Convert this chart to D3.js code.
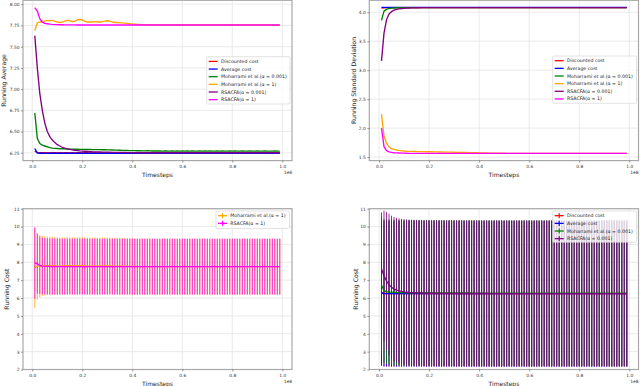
<!DOCTYPE html>
<html>
<head>
<meta charset="utf-8">
<script src="https://cdn.jsdelivr.net/npm/d3@7"></script>
<style>
  body { margin: 0; background: #fff; }
  svg { display: block; font-family: "DejaVu Sans", sans-serif; }
</style>
</head>
<body>
<div id="chart"></div>
<script>
// timesteps, in millions (axis shows them in units of 1e8)
var steps = [1,2,3,4,5,6,7,8,9,10,
  11,12,13,14,15,16,17,18,19,20,
  21,22,23,24,25,26,27,28,29,30,
  31,32,33,34,35,36,37,38,39,40,
  41,42,43,44,45,46,47,48,49,50,
  51,52,53,54,55,56,57,58,59,60,
  61,62,63,64,65,66,67,68,69,70,
  71,72,73,74,75,76,77,78,79,80,
  81,82,83,84,85,86,87,88,89,90,
  91,92,93,94,95,96,97,98,99];

var xTicks = [0, 20, 40, 60, 80, 100];
var avgTicks = [6.25, 6.5, 6.75, 7.0, 7.25, 7.5, 7.75, 8.0];
var sdTicks = [1.5, 2.0, 2.5, 3.0, 3.5, 4.0];
var costTicks = [2, 3, 4, 5, 6, 7, 8, 9, 10, 11];

var seriesNames = ["Discounted cost", "Average cost", "Moharrami et al.(\u03b1 = 0.001)",
  "Moharrami et al.(\u03b1 = 1)", "RSACFA(\u03b1 = 0.001)", "RSACFA(\u03b1 = 1)"];
var seriesColors = ["#ff0000", "#0000ff", "#008000", "#ffa500", "#800080", "#ff00ff"];

// running averages
var avgDiscounted = [6.27,6.255,6.252,6.251,6.25,6.25,6.249,6.25,6.25,6.249,
  6.25,6.249,6.25,6.25,6.249,6.25,6.249,6.25,6.25,6.249,
  6.25,6.25,6.249,6.25,6.25,6.249,6.25,6.25,6.249,6.25,
  6.249,6.25,6.25,6.249,6.25,6.25,6.249,6.25,6.249,6.25,
  6.25,6.249,6.25,6.25,6.249,6.25,6.249,6.25,6.25,6.249,
  6.25,6.25,6.249,6.25,6.25,6.249,6.25,6.249,6.25,6.25,
  6.249,6.25,6.25,6.249,6.25,6.25,6.249,6.25,6.25,6.249,
  6.25,6.249,6.25,6.25,6.249,6.25,6.25,6.249,6.25,6.25,
  6.249,6.25,6.25,6.249,6.25,6.249,6.25,6.25,6.249,6.25,
  6.25,6.249,6.25,6.25,6.249,6.25,6.25,6.249,6.25];
var avgAverage = [6.30,6.246,6.245,6.245,6.245,6.244,6.244,6.244,6.244,6.244,
  6.244,6.244,6.244,6.244,6.244,6.244,6.244,6.244,6.244,6.244,
  6.244,6.244,6.244,6.244,6.244,6.244,6.244,6.244,6.244,6.244,
  6.244,6.244,6.244,6.244,6.244,6.244,6.244,6.244,6.244,6.244,
  6.244,6.244,6.244,6.244,6.244,6.244,6.244,6.244,6.244,6.244,
  6.244,6.244,6.244,6.244,6.244,6.244,6.244,6.244,6.244,6.244,
  6.244,6.244,6.244,6.244,6.244,6.244,6.244,6.244,6.244,6.244,
  6.244,6.244,6.244,6.244,6.244,6.244,6.244,6.244,6.244,6.244,
  6.244,6.244,6.244,6.244,6.244,6.244,6.244,6.244,6.244,6.244,
  6.244,6.244,6.244,6.244,6.244,6.244,6.244,6.244,6.244];
var avgMohSmall = [6.72,6.42,6.36,6.34,6.33,6.32,6.31,6.305,6.302,6.30,
  6.298,6.297,6.296,6.295,6.294,6.293,6.292,6.292,6.291,6.29,
  6.29,6.289,6.289,6.288,6.288,6.287,6.287,6.286,6.286,6.285,
  6.284,6.283,6.282,6.281,6.28,6.279,6.278,6.277,6.276,6.276,
  6.275,6.274,6.276,6.273,6.272,6.274,6.272,6.271,6.273,6.271,
  6.272,6.27,6.273,6.271,6.27,6.272,6.27,6.271,6.27,6.272,
  6.27,6.271,6.27,6.272,6.27,6.27,6.271,6.27,6.272,6.27,
  6.271,6.27,6.27,6.272,6.27,6.271,6.27,6.27,6.271,6.27,
  6.272,6.27,6.27,6.271,6.27,6.27,6.272,6.27,6.27,6.271,
  6.27,6.27,6.271,6.27,6.27,6.27,6.271,6.27,6.27];
var avgMohOne = [7.69,7.78,7.79,7.80,7.80,7.81,7.805,7.81,7.80,7.79,
  7.785,7.79,7.80,7.81,7.805,7.795,7.80,7.815,7.82,7.815,
  7.80,7.79,7.79,7.79,7.795,7.79,7.79,7.795,7.80,7.805,
  7.80,7.79,7.785,7.785,7.78,7.78,7.778,7.775,7.77,7.765,
  7.765,7.763,7.762,7.76,7.76,7.758,7.757,7.757,7.756,7.756,
  7.755,7.755,7.755,7.755,7.755,7.755,7.755,7.755,7.755,7.755,
  7.755,7.755,7.755,7.755,7.755,7.755,7.755,7.755,7.755,7.755,
  7.755,7.755,7.755,7.755,7.755,7.755,7.755,7.755,7.755,7.755,
  7.755,7.755,7.755,7.755,7.755,7.755,7.755,7.755,7.755,7.755,
  7.755,7.755,7.755,7.755,7.755,7.755,7.755,7.755,7.755];
var avgRsSmall = [7.63,7.25,6.95,6.75,6.60,6.50,6.44,6.40,6.37,6.345,
  6.33,6.315,6.305,6.297,6.29,6.285,6.28,6.276,6.272,6.27,
  6.268,6.266,6.264,6.262,6.261,6.26,6.259,6.258,6.257,6.256,
  6.256,6.255,6.255,6.254,6.254,6.253,6.253,6.252,6.252,6.252,
  6.251,6.251,6.251,6.25,6.25,6.25,6.25,6.25,6.25,6.25,
  6.249,6.25,6.249,6.25,6.249,6.249,6.25,6.249,6.249,6.25,
  6.249,6.249,6.25,6.249,6.249,6.249,6.25,6.249,6.249,6.249,
  6.25,6.249,6.249,6.249,6.249,6.25,6.249,6.249,6.249,6.249,
  6.249,6.25,6.249,6.249,6.249,6.249,6.249,6.25,6.249,6.249,
  6.249,6.249,6.249,6.249,6.25,6.249,6.249,6.249,6.249];
var avgRsOne = [7.96,7.92,7.83,7.79,7.775,7.77,7.765,7.762,7.76,7.76,
  7.758,7.758,7.757,7.757,7.756,7.756,7.756,7.755,7.755,7.755,
  7.755,7.755,7.755,7.755,7.755,7.755,7.755,7.755,7.755,7.755,
  7.755,7.755,7.755,7.755,7.755,7.755,7.755,7.755,7.755,7.755,
  7.755,7.755,7.755,7.755,7.755,7.755,7.755,7.755,7.755,7.755,
  7.755,7.755,7.755,7.755,7.755,7.755,7.755,7.755,7.755,7.755,
  7.755,7.755,7.755,7.755,7.755,7.755,7.755,7.755,7.755,7.755,
  7.755,7.755,7.755,7.755,7.755,7.755,7.755,7.755,7.755,7.755,
  7.755,7.755,7.755,7.755,7.755,7.755,7.755,7.755,7.755,7.755,
  7.755,7.755,7.755,7.755,7.755,7.755,7.755,7.755,7.755];

// running standard deviations
var sdDiscounted = [4.07,4.078,4.08,4.08,4.08,4.08,4.08,4.08,4.08,4.08,
  4.08,4.08,4.08,4.08,4.08,4.08,4.08,4.08,4.08,4.08,
  4.08,4.08,4.08,4.08,4.08,4.08,4.08,4.08,4.08,4.08,
  4.08,4.08,4.08,4.08,4.08,4.08,4.08,4.08,4.08,4.08,
  4.08,4.08,4.08,4.08,4.08,4.08,4.08,4.08,4.08,4.08,
  4.08,4.08,4.08,4.08,4.08,4.08,4.08,4.08,4.08,4.08,
  4.08,4.08,4.08,4.08,4.08,4.08,4.08,4.08,4.08,4.08,
  4.08,4.08,4.08,4.08,4.08,4.08,4.08,4.08,4.08,4.08,
  4.08,4.08,4.08,4.08,4.08,4.08,4.08,4.08,4.08,4.08,
  4.08,4.08,4.08,4.08,4.08,4.08,4.08,4.08,4.08];
var sdAverage = [4.085,4.085,4.085,4.085,4.085,4.085,4.085,4.085,4.085,4.085,
  4.085,4.085,4.085,4.085,4.085,4.085,4.085,4.085,4.085,4.085,
  4.085,4.085,4.085,4.085,4.085,4.085,4.085,4.085,4.085,4.085,
  4.085,4.085,4.085,4.085,4.085,4.085,4.085,4.085,4.085,4.085,
  4.085,4.085,4.085,4.085,4.085,4.085,4.085,4.085,4.085,4.085,
  4.085,4.085,4.085,4.085,4.085,4.085,4.085,4.085,4.085,4.085,
  4.085,4.085,4.085,4.085,4.085,4.085,4.085,4.085,4.085,4.085,
  4.085,4.085,4.085,4.085,4.085,4.085,4.085,4.085,4.085,4.085,
  4.085,4.085,4.085,4.085,4.085,4.085,4.085,4.085,4.085,4.085,
  4.085,4.085,4.085,4.085,4.085,4.085,4.085,4.085,4.085];
var sdMohSmall = [3.86,4.02,4.05,4.065,4.07,4.073,4.075,4.077,4.078,4.079,
  4.08,4.08,4.08,4.08,4.08,4.08,4.08,4.08,4.08,4.08,
  4.08,4.08,4.08,4.08,4.08,4.08,4.08,4.08,4.08,4.08,
  4.08,4.08,4.08,4.08,4.08,4.08,4.08,4.08,4.08,4.08,
  4.08,4.08,4.08,4.08,4.08,4.08,4.08,4.08,4.08,4.08,
  4.08,4.08,4.08,4.08,4.08,4.08,4.08,4.08,4.08,4.08,
  4.08,4.08,4.08,4.08,4.08,4.08,4.08,4.08,4.08,4.08,
  4.08,4.08,4.08,4.08,4.08,4.08,4.08,4.08,4.08,4.08,
  4.08,4.08,4.08,4.08,4.08,4.08,4.08,4.08,4.08,4.08,
  4.08,4.08,4.08,4.08,4.08,4.08,4.08,4.08,4.08];
var sdMohOne = [2.24,1.86,1.74,1.675,1.645,1.632,1.622,1.615,1.608,1.604,
  1.601,1.599,1.598,1.597,1.596,1.595,1.594,1.593,1.592,1.592,
  1.591,1.59,1.589,1.588,1.587,1.586,1.585,1.585,1.584,1.583,
  1.582,1.581,1.58,1.579,1.578,1.577,1.576,1.575,1.574,1.573,
  1.572,1.571,1.57,1.569,1.568,1.567,1.567,1.566,1.566,1.566,
  1.565,1.565,1.565,1.565,1.565,1.565,1.565,1.565,1.565,1.565,
  1.565,1.565,1.565,1.565,1.565,1.565,1.565,1.565,1.565,1.565,
  1.565,1.565,1.565,1.565,1.565,1.565,1.565,1.565,1.565,1.565,
  1.565,1.565,1.565,1.565,1.565,1.565,1.565,1.565,1.565,1.565,
  1.565,1.565,1.565,1.565,1.565,1.565,1.565,1.565,1.565];
var sdRsSmall = [3.16,3.64,3.87,3.97,4.01,4.035,4.05,4.058,4.064,4.068,
  4.071,4.073,4.075,4.076,4.077,4.078,4.079,4.079,4.08,4.08,
  4.08,4.08,4.08,4.08,4.08,4.08,4.08,4.08,4.08,4.08,
  4.08,4.08,4.08,4.08,4.08,4.08,4.08,4.08,4.08,4.08,
  4.08,4.08,4.08,4.08,4.08,4.08,4.08,4.08,4.08,4.08,
  4.08,4.08,4.08,4.08,4.08,4.08,4.08,4.08,4.08,4.08,
  4.08,4.08,4.08,4.08,4.08,4.08,4.08,4.08,4.08,4.08,
  4.08,4.08,4.08,4.08,4.08,4.08,4.08,4.08,4.08,4.08,
  4.08,4.08,4.08,4.08,4.08,4.08,4.08,4.08,4.08,4.08,
  4.08,4.08,4.08,4.08,4.08,4.08,4.08,4.08,4.08];
var sdRsOne = [2.00,1.68,1.61,1.59,1.58,1.575,1.572,1.57,1.568,1.567,
  1.566,1.565,1.565,1.565,1.565,1.565,1.565,1.565,1.565,1.565,
  1.565,1.565,1.565,1.565,1.565,1.565,1.565,1.565,1.565,1.565,
  1.565,1.565,1.565,1.565,1.565,1.565,1.565,1.565,1.565,1.565,
  1.565,1.565,1.565,1.565,1.565,1.565,1.565,1.565,1.565,1.565,
  1.565,1.565,1.565,1.565,1.565,1.565,1.565,1.565,1.565,1.565,
  1.565,1.565,1.565,1.565,1.565,1.565,1.565,1.565,1.565,1.565,
  1.565,1.565,1.565,1.565,1.565,1.565,1.565,1.565,1.565,1.565,
  1.565,1.565,1.565,1.565,1.565,1.565,1.565,1.565,1.565,1.565,
  1.565,1.565,1.565,1.565,1.565,1.565,1.565,1.565,1.565];

var avgAll = [avgDiscounted, avgAverage, avgMohSmall, avgMohOne, avgRsSmall, avgRsOne];
var sdAll = [sdDiscounted, sdAverage, sdMohSmall, sdMohOne, sdRsSmall, sdRsOne];

var svg = d3.select("#chart").append("svg")
  .attr("width", 640)
  .attr("height", 386);

var panels = [
  { id: "p1", box: [23, 0.3, 292, 160.6], xr: [32.3, 282.3], yDomain: [6.158, 8.046],
    yTicks: avgTicks, yFmt: d3.format(".2f"), ylabel: "Running Average", ylabelX: 3.5,
    values: avgAll, series: [0, 1, 2, 3, 4, 5], errorbars: false,
    legend: [206.7, 56.7, 290, 104] },
  { id: "p2", box: [369.3, 0.3, 638.5, 160.6], xr: [379, 629.3], yDomain: [1.439, 4.206],
    yTicks: sdTicks, yFmt: d3.format(".1f"), ylabel: "Running Standard Deviation", ylabelX: 353,
    values: sdAll, series: [0, 1, 2, 3, 4, 5], errorbars: false,
    legend: [552.7, 56, 636.5, 103.3] },
  { id: "p3", box: [23, 208.7, 292, 369.5], xr: [32.3, 282.3], yDomain: [2, 11],
    yTicks: costTicks, yFmt: d3.format("d"), ylabel: "Running Cost", ylabelX: 6.5,
    values: avgAll, series: [3, 5], errorbars: true,
    legend: [216, 211, 289.5, 228.5] },
  { id: "p4", box: [369.3, 208.7, 638.5, 369.5], xr: [379, 629.3], yDomain: [2, 11],
    yTicks: costTicks, yFmt: d3.format("d"), ylabel: "Running Cost", ylabelX: 355,
    values: avgAll, series: [0, 1, 2, 4], errorbars: true,
    legend: [552.7, 211, 636.5, 242.3] }
];

panels.forEach(drawPanel);

function drawPanel(p) {
  var left = p.box[0], top = p.box[1], right = p.box[2], bottom = p.box[3];
  var x = d3.scaleLinear().domain([0, 100]).range(p.xr);
  var y = d3.scaleLinear().domain(p.yDomain).range([bottom, top]);
  var g = svg.append("g").attr("class", p.id);

  g.append("clipPath").attr("id", "clip-" + p.id)
    .append("rect")
    .attr("x", left).attr("y", top)
    .attr("width", right - left).attr("height", bottom - top);

  // grid
  g.selectAll(".vgrid").data(xTicks).enter().append("line")
    .attr("x1", function(d) { return x(d); }).attr("x2", function(d) { return x(d); })
    .attr("y1", top).attr("y2", bottom)
    .attr("stroke", "#e4e4e4").attr("stroke-width", 0.8);
  g.selectAll(".hgrid").data(p.yTicks).enter().append("line")
    .attr("y1", function(d) { return y(d); }).attr("y2", function(d) { return y(d); })
    .attr("x1", left).attr("x2", right)
    .attr("stroke", "#e4e4e4").attr("stroke-width", 0.8);

  var plot = g.append("g").attr("clip-path", "url(#clip-" + p.id + ")");

  var line = d3.line()
    .x(function(d) { return x(d[0]); })
    .y(function(d) { return y(d[1]); });

  // error bars first (drawn below all mean lines)
  if (p.errorbars) {
    p.series.forEach(function(k) {
      var pts = steps.map(function(s, i) { return [s, avgAll[k][i], sdAll[k][i]]; });
      plot.append("g").selectAll("line").data(pts).enter().append("line")
        .attr("x1", function(d) { return x(d[0]); })
        .attr("x2", function(d) { return x(d[0]); })
        .attr("y1", function(d) { return y(d[1] - d[2]); })
        .attr("y2", function(d) { return y(d[1] + d[2]); })
        .attr("stroke", seriesColors[k])
        .attr("stroke-opacity", 0.8)
        .attr("stroke-width", 1.0);
    });
  }

  p.series.forEach(function(k) {
    var pts = steps.map(function(s, i) { return [s, p.values[k][i]]; });
    plot.append("path")
      .datum(pts)
      .attr("fill", "none")
      .attr("stroke", seriesColors[k])
      .attr("stroke-width", 1.35)
      .attr("stroke-linejoin", "round")
      .attr("d", line);
  });

  // frame
  g.append("rect")
    .attr("x", left).attr("y", top)
    .attr("width", right - left).attr("height", bottom - top)
    .attr("fill", "none").attr("stroke", "#a8a8a8").attr("stroke-width", 1.2);

  // axes
  var xAxis = d3.axisBottom(x).tickValues(xTicks).tickSize(2)
    .tickFormat(function(d) { return d3.format(".1f")(d / 100); });
  var gx = g.append("g").attr("transform", "translate(0," + bottom + ")").call(xAxis);
  var yAxis = d3.axisLeft(y).tickValues(p.yTicks).tickSize(2).tickFormat(p.yFmt);
  var gy = g.append("g").attr("transform", "translate(" + left + ",0)").call(yAxis);
  [gx, gy].forEach(function(a) {
    a.select(".domain").remove();
    a.selectAll(".tick line").attr("stroke", "#555").attr("stroke-width", 0.6);
    a.selectAll(".tick text").attr("fill", "#333").attr("font-size", 4.4)
      .attr("font-family", "DejaVu Sans");
  });
  gx.selectAll(".tick text").attr("y", 4).attr("dy", "0.71em");
  gy.selectAll(".tick text").attr("x", -3.5);

  g.append("text")
    .attr("x", (left + right) / 2).attr("y", bottom + 13.5)
    .attr("text-anchor", "middle").attr("dominant-baseline", "central")
    .attr("font-size", 6).attr("fill", "#222")
    .text("Timesteps");
  g.append("text")
    .attr("x", right).attr("y", bottom + 12)
    .attr("text-anchor", "end").attr("dominant-baseline", "central")
    .attr("font-size", 4.4).attr("fill", "#333")
    .text("1e8");
  g.append("text")
    .attr("transform", "translate(" + p.ylabelX + "," + ((top + bottom) / 2) + ") rotate(-90)")
    .attr("text-anchor", "middle").attr("dominant-baseline", "central")
    .attr("font-size", 6.2).attr("fill", "#222")
    .text(p.ylabel);

  // legend
  var L = p.legend;
  var lg = g.append("g");
  lg.append("rect")
    .attr("x", L[0]).attr("y", L[1])
    .attr("width", L[2] - L[0]).attr("height", L[3] - L[1])
    .attr("rx", 1)
    .attr("fill", "#fff").attr("fill-opacity", 0.8)
    .attr("stroke", "#d0d0d0").attr("stroke-width", 0.6);
  var rows = lg.selectAll(".row").data(p.series).enter().append("g")
    .attr("transform", function(d, i) {
      return "translate(" + (L[0] + 2) + "," + (L[1] + 4.7 + i * 7.65) + ")";
    });
  rows.append("line")
    .attr("x1", 0).attr("x2", 9).attr("y1", 0).attr("y2", 0)
    .attr("stroke", function(k) { return seriesColors[k]; })
    .attr("stroke-width", 1.3);
  if (p.errorbars) {
    rows.append("line")
      .attr("x1", 4.5).attr("x2", 4.5).attr("y1", -2.6).attr("y2", 2.6)
      .attr("stroke", function(k) { return seriesColors[k]; })
      .attr("stroke-width", 1.1);
  }
  rows.append("text")
    .attr("x", 12.3).attr("y", 0)
    .attr("dominant-baseline", "central")
    .attr("font-size", 4.7).attr("fill", "#222")
    .text(function(k) { return seriesNames[k]; });
}
</script>
</body>
</html>
